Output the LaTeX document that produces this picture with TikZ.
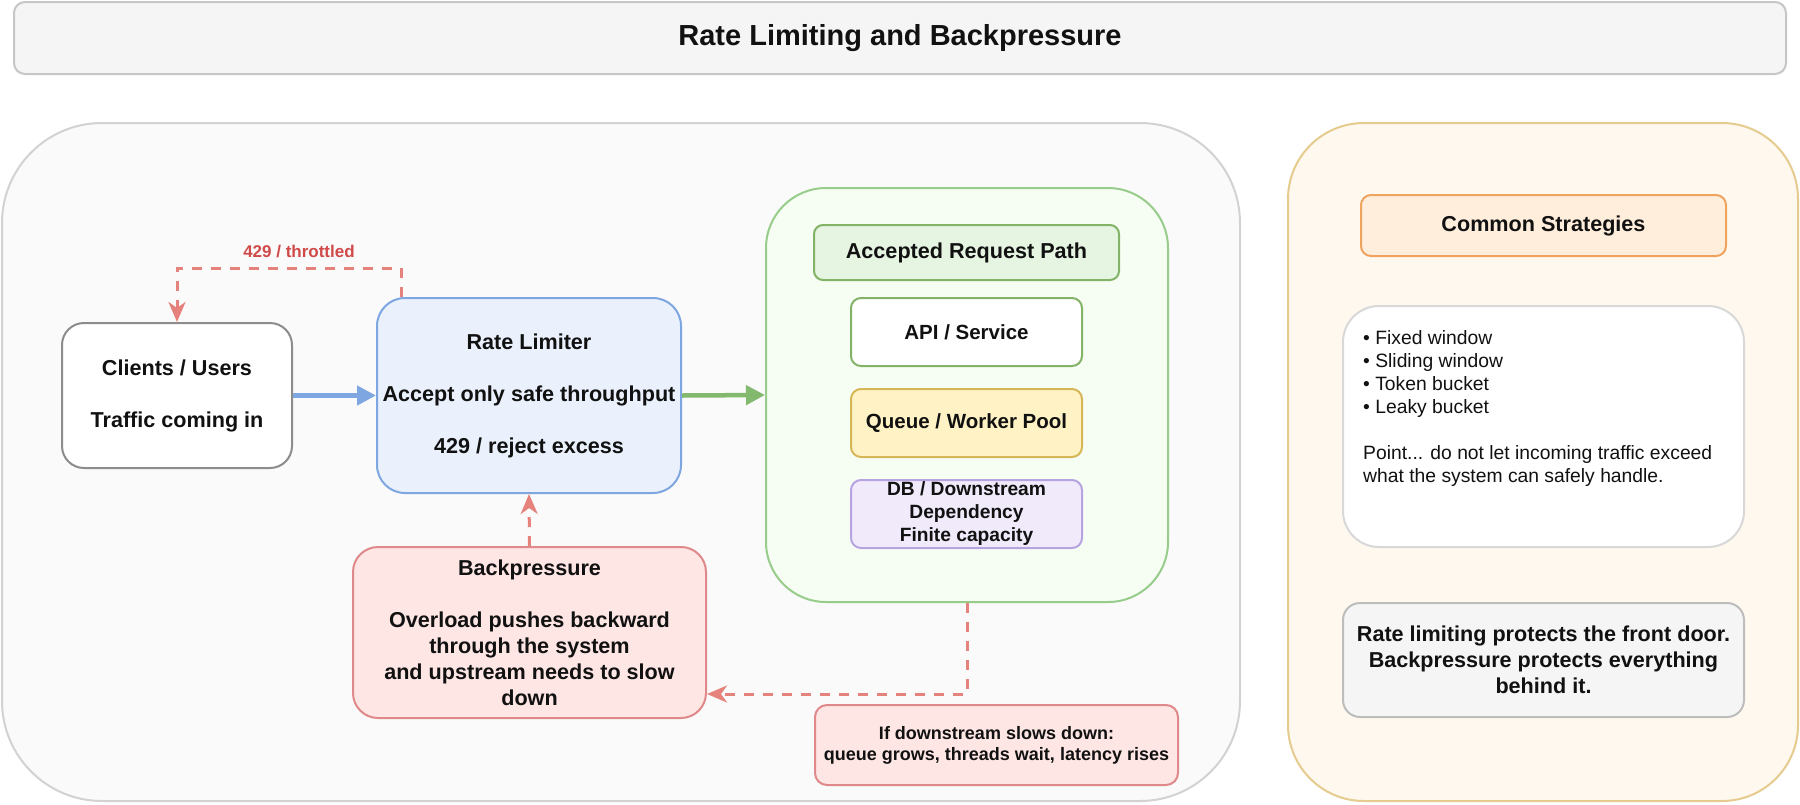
\documentclass[tikz,border=0pt]{standalone}
\usepackage{fontspec}
\setmainfont{Liberation Sans}
\usetikzlibrary{arrows.meta,calc}
\definecolor{txt}{HTML}{111111}
\definecolor{titlefill}{HTML}{F5F5F5}
\definecolor{titleline}{HTML}{C6C6C6}
\definecolor{lpfill}{HTML}{FAFAFA}
\definecolor{lpline}{HTML}{D2D2D2}
\definecolor{rpfill}{HTML}{FFF8EE}
\definecolor{rpline}{HTML}{E5CB8E}
\definecolor{clline}{HTML}{8C8C8C}
\definecolor{rlfill}{HTML}{EAF1FC}
\definecolor{rlline}{HTML}{7EA6E0}
\definecolor{grnarrow}{HTML}{82B96E}
\definecolor{gcfill}{HTML}{F6FEF4}
\definecolor{gcline}{HTML}{97CC8A}
\definecolor{accfill}{HTML}{E6F4E2}
\definecolor{accline}{HTML}{82B366}
\definecolor{qfill}{HTML}{FFF3C6}
\definecolor{qline}{HTML}{D6B656}
\definecolor{dbfill}{HTML}{F0EAFB}
\definecolor{dbline}{HTML}{B7A3E0}
\definecolor{bpfill}{HTML}{FDE6E4}
\definecolor{bpline}{HTML}{E0898A}
\definecolor{dashred}{HTML}{E5827C}
\definecolor{lblred}{HTML}{D04A4A}
\definecolor{csfill}{HTML}{FFEEDC}
\definecolor{csline}{HTML}{F0A35E}
\definecolor{listline}{HTML}{D8D8D8}
\definecolor{botfill}{HTML}{F5F5F5}
\definecolor{botline}{HTML}{BDBDBD}
\newcommand{\myfs}[2]{\fontsize{#1}{#2}\selectfont}
\tikzset{
  card/.style={draw, line width=2pt, inner sep=0pt, align=center, text=txt},
  bigtext/.style={font=\myfs{21.6}{26}\bfseries},
  flow/.style={line width=4.5pt, -{Triangle[length=19pt,width=19pt]}},
  dasharrow/.style={draw=dashred, line width=3pt, dash pattern=on 10pt off 9pt,
    -{Stealth[length=20pt,width=17pt,inset=6pt]}, fill=none}
}
\begin{document}
\begin{tikzpicture}[x=1pt,y=-1pt]
\useasboundingbox (0,0) rectangle (1800,804);
% title
\node[card, fill=titlefill, draw=titleline, rounded corners=11pt, minimum width=1772, minimum height=72,
  font=\myfs{29}{34}\bfseries] (title) at (900,38) {Rate Limiting and Backpressure};
% panels
\node[card, fill=lpfill, draw=lpline, rounded corners=100pt, minimum width=1238, minimum height=678] (left) at (621,462) {};
\node[card, fill=rpfill, draw=rpline, rounded corners=76pt, minimum width=510, minimum height=678] (right) at (1543,462) {};
% left content
\node[card, bigtext, fill=white, draw=clline, rounded corners=22pt, minimum width=230, minimum height=145] (clients) at (177,395.5)
  {Clients / Users\\[26pt]Traffic coming in};
\node[card, bigtext, fill=rlfill, draw=rlline, rounded corners=28pt, minimum width=304, minimum height=195] (rl) at (529,395.5)
  {Rate Limiter\\[26pt]Accept only safe throughput\\[26pt]429 / reject excess};
\node[card, fill=gcfill, draw=gcline, rounded corners=60pt, minimum width=402, minimum height=414] (green) at (967,395) {};
\node[card, bigtext, fill=accfill, draw=accline, rounded corners=9pt, minimum width=305, minimum height=55] (acc) at (966.5,252.5)
  {Accepted Request Path};
\node[card, font=\myfs{20.5}{24}\bfseries, fill=white, draw=accline, rounded corners=10pt, minimum width=231, minimum height=68] (api) at (966.5,332)
  {API / Service};
\node[card, font=\myfs{20.5}{24}\bfseries, fill=qfill, draw=qline, rounded corners=10pt, minimum width=231, minimum height=68] (queue) at (966.5,423)
  {Queue / Worker Pool};
\node[card, font=\myfs{19.2}{23}\bfseries, fill=dbfill, draw=dbline, rounded corners=10pt, minimum width=231, minimum height=68] (db) at (966.5,514)
  {DB / Downstream\\Dependency\\Finite capacity};
\node[card, bigtext, fill=bpfill, draw=bpline, rounded corners=25pt, minimum width=353, minimum height=171] (bp) at (529.5,632.5)
  {Backpressure\\[26pt]Overload pushes backward\\through the system\\and upstream needs to slow\\down};
\node[card, font=\myfs{18}{21}\bfseries, fill=bpfill, draw=bpline, rounded corners=12pt, minimum width=363, minimum height=80] (note) at (996.5,745)
  {If downstream slows down:\\queue grows, threads wait, latency rises};
% connectors
\draw[flow, draw=rlline, fill=rlline] (clients.east) -- (rl.west);
\draw[flow, draw=grnarrow, fill=grnarrow] (rl.east) -- (green.west);
\coordinate (thr) at (300,268);
\draw[dasharrow] ($(rl.north west)+(25,0)$) |- (thr) -| (clients.north);
\node[font=\myfs{17}{20}\bfseries, text=lblred, inner sep=0pt] (thrlbl) at (299,252) {429 / throttled};
\draw[dasharrow] (bp.north) -- (rl.south);
\coordinate (bpin) at ($(bp.south east)+(0,-25)$);
\draw[dasharrow] (green.south) |- (bpin);
% right content
\node[card, bigtext, fill=csfill, draw=csline, rounded corners=10pt, minimum width=365, minimum height=61] (cs) at (1543.5,225.5)
  {Common Strategies};
\node[card, fill=white, draw=listline, rounded corners=36pt, minimum width=401, minimum height=241] (list) at (1543.5,426.5) {};
\node[anchor=north west, inner sep=0pt, align=left, text=txt, font=\myfs{19.3}{23}] (listtext) at (1363,330)
  {• Fixed window\\• Sliding window\\• Token bucket\\• Leaky bucket\\[23pt]Point... do not let incoming traffic exceed\\what the system can safely handle.};
\node[card, bigtext, fill=botfill, draw=botline, rounded corners=17pt, minimum width=401, minimum height=114] (bottom) at (1543.5,660)
  {Rate limiting protects the front door.\\Backpressure protects everything\\behind it.};
\end{tikzpicture}
\end{document}
